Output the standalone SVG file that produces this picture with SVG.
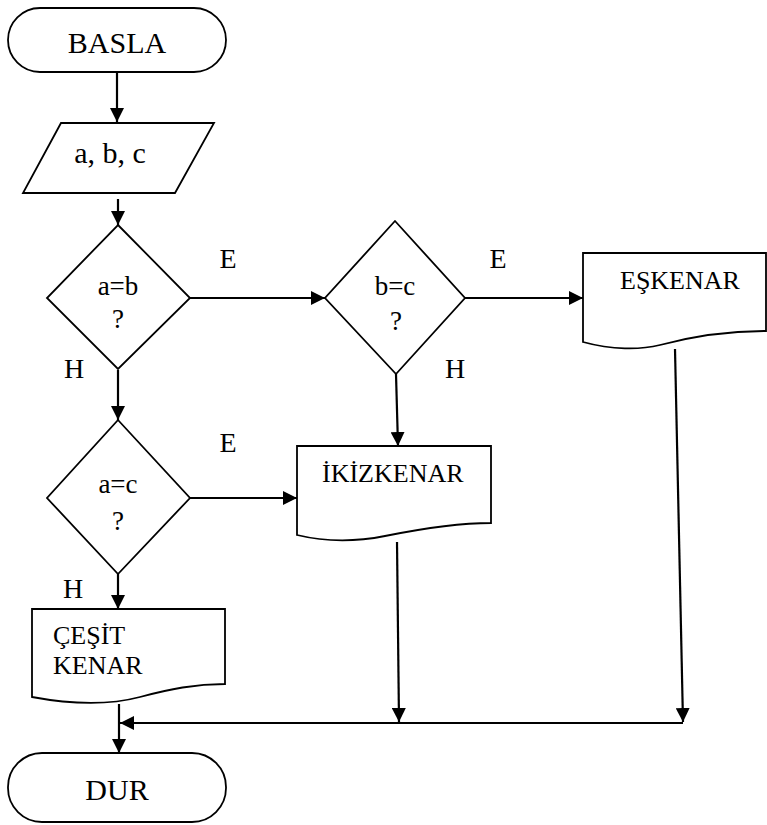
<svg xmlns="http://www.w3.org/2000/svg" width="767" height="825" viewBox="0 0 767 825">
  <style>
    .shape { fill: #ffffff; stroke: #000000; stroke-width: 1.8; }
    .conn { fill: none; stroke: #000000; stroke-width: 2.2; }
    text { font-family: "Liberation Serif", "Times New Roman", serif; fill: #000000; }
    .big { font-size: 30px; }
    .mid { font-size: 27px; }
    .lbl { font-size: 28px; }
    .doc { font-size: 26px; }
  </style>
  <defs>
    <marker id="arrow" viewBox="0 0 14 14" refX="14" refY="7" markerWidth="14" markerHeight="14" markerUnits="userSpaceOnUse" orient="auto">
      <path d="M0,0 L14,7 L0,14 Z" fill="#000000"/>
    </marker>
  </defs>

  <rect width="767" height="825" fill="#ffffff"/>

  <!-- connectors -->
  <g id="connectors" font-family="Liberation Serif, serif">
    <line class="conn" x1="117" y1="72" x2="117" y2="122" marker-end="url(#arrow)"/>
    <line class="conn" x1="118" y1="199" x2="118" y2="225" marker-end="url(#arrow)"/>
    <line class="conn" x1="190" y1="298" x2="325" y2="298" marker-end="url(#arrow)"/>
    <line class="conn" x1="465" y1="298" x2="583" y2="298" marker-end="url(#arrow)"/>
    <line class="conn" x1="118" y1="370" x2="118" y2="420" marker-end="url(#arrow)"/>
    <line class="conn" x1="396" y1="374" x2="398" y2="446" marker-end="url(#arrow)"/>
    <line class="conn" x1="190" y1="498" x2="297" y2="498" marker-end="url(#arrow)"/>
    <line class="conn" x1="118" y1="574" x2="118" y2="609" marker-end="url(#arrow)"/>
    <line class="conn" x1="397" y1="542" x2="399" y2="722" marker-end="url(#arrow)"/>
    <line class="conn" x1="675" y1="349" x2="683" y2="722" marker-end="url(#arrow)"/>
    <line class="conn" x1="683" y1="723" x2="120" y2="723" marker-end="url(#arrow)"/>
    <line class="conn" x1="119" y1="704" x2="119" y2="753" marker-end="url(#arrow)"/>
    <text class="lbl" x="228" y="268" text-anchor="middle">E</text>
    <text class="lbl" x="498" y="268" text-anchor="middle">E</text>
    <text class="lbl" x="228" y="452" text-anchor="middle">E</text>
    <text class="lbl" x="74" y="378" text-anchor="middle">H</text>
    <text class="lbl" x="455" y="378" text-anchor="middle">H</text>
    <text class="lbl" x="73" y="598" text-anchor="middle">H</text>
  </g>

  <!-- start terminator -->
  <g id="basla" font-family="Liberation Serif, serif">
    <rect class="shape" x="8" y="8" width="218" height="64" rx="32" ry="32"/>
    <text class="big" x="117" y="53" text-anchor="middle">BASLA</text>
  </g>

  <!-- input -->
  <g id="input" font-family="Liberation Serif, serif">
    <polygon class="shape" points="61,123 214,123 175,193 23,193"/>
    <text class="big" x="110" y="163" text-anchor="middle">a, b, c</text>
  </g>

  <!-- decision a=b -->
  <g id="dec-ab" font-family="Liberation Serif, serif">
    <polygon class="shape" points="118,225 190,298 118,369 47,298"/>
    <text class="mid" x="118" y="295" text-anchor="middle">a=b</text>
    <text class="mid" x="118" y="328" text-anchor="middle">?</text>
  </g>

  <!-- decision b=c -->
  <g id="dec-bc" font-family="Liberation Serif, serif">
    <polygon class="shape" points="395,221 465,298 396,374 325,298"/>
    <text class="mid" x="395" y="295" text-anchor="middle">b=c</text>
    <text class="mid" x="396" y="330" text-anchor="middle">?</text>
  </g>

  <!-- decision a=c -->
  <g id="dec-ac" font-family="Liberation Serif, serif">
    <polygon class="shape" points="118,420 190,498 118,574 47,498"/>
    <text class="mid" x="118" y="493" text-anchor="middle">a=c</text>
    <text class="mid" x="118" y="530" text-anchor="middle">?</text>
  </g>

  <!-- output: equilateral -->
  <g id="eskenar" font-family="Liberation Serif, serif">
    <path class="shape" d="M583,253 H766 V331 C725,331 690,337 660,345 C640,350 612,350 583,342 Z"/>
    <text class="doc" x="620" y="289">EŞKENAR</text>
  </g>

  <!-- output: isosceles -->
  <g id="ikizkenar" font-family="Liberation Serif, serif">
    <path class="shape" d="M297,446 H491 V523 C455,523 420,529 385,536 C360,541 330,543 297,535 Z"/>
    <text class="doc" x="322" y="482">İKİZKENAR</text>
  </g>

  <!-- output: scalene -->
  <g id="cesit" font-family="Liberation Serif, serif">
    <path class="shape" d="M32,609 H225 V684 C195,684 170,689 140,697 C110,705 75,705 32,697 Z"/>
    <text class="doc" x="53" y="644">ÇEŞİT</text>
    <text class="doc" x="53" y="674">KENAR</text>
  </g>

  <!-- end terminator -->
  <g id="dur" font-family="Liberation Serif, serif">
    <rect class="shape" x="8" y="753" width="218" height="69" rx="34" ry="34"/>
    <text class="big" x="117" y="800" text-anchor="middle">DUR</text>
  </g>
</svg>
